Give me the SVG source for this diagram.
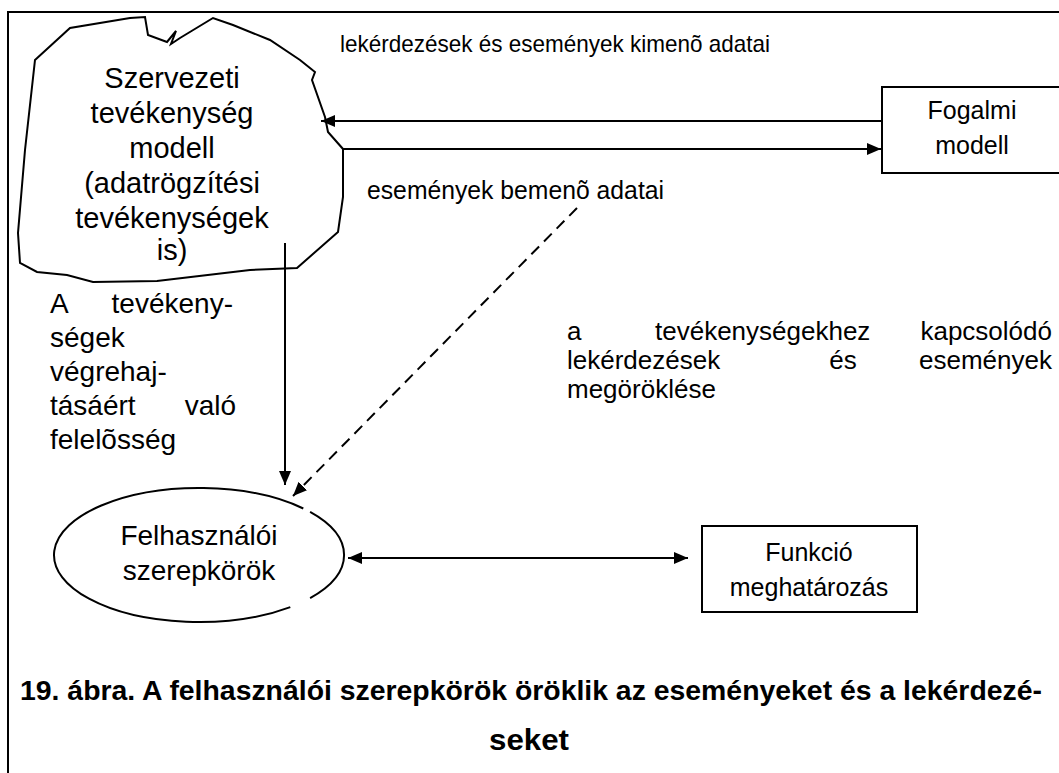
<svg xmlns="http://www.w3.org/2000/svg" width="1059" height="773" viewBox="0 0 1059 773">
<style>
text{font-family:"Liberation Sans",Arial,sans-serif;fill:#000}
.l{stroke:#000;stroke-width:2;fill:none}
.s{font-size:28px}
.m{font-size:25px}
.r{font-size:26px}
.c{font-size:27px;font-weight:bold}
</style>
<defs>
<marker id="ah" viewBox="0 0 14 12" refX="14" refY="6" markerWidth="14" markerHeight="12" markerUnits="userSpaceOnUse" orient="auto-start-reverse">
<path d="M0,0 L14,6 L0,12 Z" fill="#000"/>
</marker>
</defs>
<rect width="1059" height="773" fill="#fff"/>
<g id="frame"><path class="l" d="M8,773 V12 H1060"/></g>
<g id="cloud">
<path class="l" d="M35,60 L70,28 L130,18 L145,17 L148,35 L167,42 L176,31 L171,44 L180,38 L213,18 L233,25 L270,40 L300,60 L315,72 L312,80 L325,117 L328,132 L343,149 L343,197 L338,232 L297,268 L250,270 L157,281 L93,282 L67,275 L37,272 L20,263 L18,233 L25,150 Z"/>
<g text-anchor="middle" style="font-size:29px">
<text x="172" y="88">Szervezeti</text>
<text x="172" y="123">tevékenység</text>
<text x="172" y="158">modell</text>
<text x="172" y="193">(adatrögzítési</text>
<text x="172" y="228">tevékenységek</text>
<text x="172" y="260">is)</text>
</g>
</g>
<g id="fogalmi">
<path class="l" d="M1060,87 H882 V173 H1060"/>
<text class="m" x="972" y="119" text-anchor="middle">Fogalmi</text>
<text class="m" x="972" y="154" text-anchor="middle">modell</text>
</g>
<g id="felhasznaloi">
<path class="l" d="M303.3,508.5 A145,67 0 1 0 290.3,607.1 M310.1,598.1 A145,67 0 0 0 310.1,511.9"/>
<text class="s" x="199" y="545" text-anchor="middle">Felhasználói</text>
<text class="s" x="199" y="580" text-anchor="middle">szerepkörök</text>
</g>
<g id="funkcio">
<rect class="l" x="702" y="526" width="215" height="86"/>
<text class="m" x="809" y="561" text-anchor="middle">Funkció</text>
<text class="m" x="809" y="596" text-anchor="middle">meghatározás</text>
</g>
<g id="connectors">
<line class="l" x1="881" y1="121" x2="321" y2="121" marker-end="url(#ah)"/>
<line class="l" x1="343" y1="149" x2="881" y2="149" marker-end="url(#ah)"/>
<line class="l" x1="285" y1="243" x2="285" y2="485" marker-end="url(#ah)"/>
<line class="l" x1="577" y1="208" x2="293" y2="496" stroke-dasharray="11,7" marker-end="url(#ah)"/>
<line class="l" x1="348" y1="558" x2="688" y2="558" marker-start="url(#ah)" marker-end="url(#ah)"/>
</g>
<g id="labels">
<text class="m" x="340" y="52" style="font-size:24px" textLength="430" lengthAdjust="spacingAndGlyphs">lekérdezések és események kimenõ adatai</text>
<text class="m" x="367" y="199" style="font-size:26px" textLength="297" lengthAdjust="spacingAndGlyphs">események bemenõ adatai</text>
<g class="s">
<text x="50" y="313">A</text><text x="233" y="313" text-anchor="end">tevékeny-</text>
<text x="50" y="347">ségek</text>
<text x="50" y="381">végrehaj-</text>
<text x="50" y="415">tásáért</text><text x="236" y="415" text-anchor="end">való</text>
<text x="50" y="449">felelõsség</text>
</g>
<g class="r">
<text x="567" y="340">a</text><text x="655" y="340">tevékenységekhez</text><text x="1052" y="340" text-anchor="end">kapcsolódó</text>
<text x="567" y="369">lekérdezések</text><text x="843" y="369" text-anchor="middle">és</text><text x="1052" y="369" text-anchor="end">események</text>
<text x="567" y="398">megöröklése</text>
</g>
</g>
<g id="caption">
<text class="c" x="20" y="700" textLength="1022" lengthAdjust="spacingAndGlyphs">19. ábra. A felhasználói szerepkörök öröklik az eseményeket és a lekérdezé-</text>
<text class="c" x="529" y="750" text-anchor="middle" style="font-size:29px" textLength="80" lengthAdjust="spacingAndGlyphs">seket</text>
</g>
</svg>
